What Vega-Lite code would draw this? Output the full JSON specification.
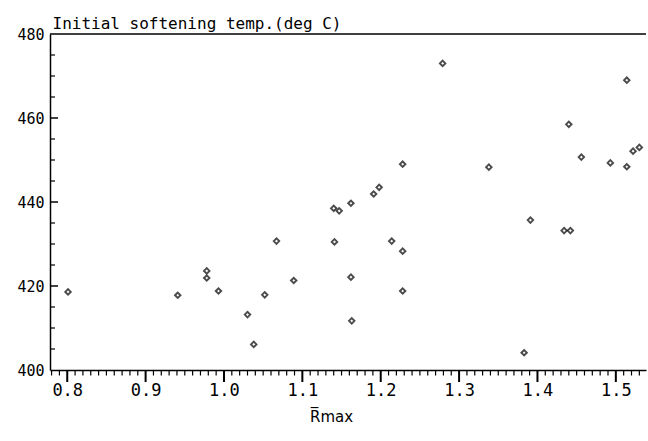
{
  "$schema": "https://vega.github.io/schema/vega-lite/v6.json",
  "width": 596,
  "height": 336,
  "autosize": "none",
  "padding": {"left": 50, "top": 34, "right": 2, "bottom": 71},
  "background": "white",
  "config": {
    "view": {"stroke": null},
    "font": "DejaVu Sans Mono"
  },
  "datasets": {
    "points": [
      {"rmax": 0.801, "temp": 418.6},
      {"rmax": 0.941, "temp": 417.8},
      {"rmax": 0.978, "temp": 423.6},
      {"rmax": 0.978, "temp": 421.9},
      {"rmax": 0.993, "temp": 418.8},
      {"rmax": 1.030, "temp": 413.2},
      {"rmax": 1.038, "temp": 406.1},
      {"rmax": 1.052, "temp": 417.9},
      {"rmax": 1.067, "temp": 430.7},
      {"rmax": 1.089, "temp": 421.3},
      {"rmax": 1.140, "temp": 438.5},
      {"rmax": 1.147, "temp": 437.9},
      {"rmax": 1.162, "temp": 439.7},
      {"rmax": 1.191, "temp": 441.9},
      {"rmax": 1.198, "temp": 443.5},
      {"rmax": 1.141, "temp": 430.5},
      {"rmax": 1.214, "temp": 430.7},
      {"rmax": 1.162, "temp": 422.1},
      {"rmax": 1.163, "temp": 411.7},
      {"rmax": 1.228, "temp": 449.0},
      {"rmax": 1.338, "temp": 448.3},
      {"rmax": 1.228, "temp": 428.3},
      {"rmax": 1.228, "temp": 418.8},
      {"rmax": 1.391, "temp": 435.7},
      {"rmax": 1.434, "temp": 433.2},
      {"rmax": 1.442, "temp": 433.2},
      {"rmax": 1.383, "temp": 404.1},
      {"rmax": 1.456, "temp": 450.7},
      {"rmax": 1.493, "temp": 449.3},
      {"rmax": 1.514, "temp": 448.4},
      {"rmax": 1.522, "temp": 452.1},
      {"rmax": 1.279, "temp": 473.0},
      {"rmax": 1.514, "temp": 469.0},
      {"rmax": 1.440, "temp": 458.5},
      {"rmax": 1.530, "temp": 453.0}
    ],
    "xmajor": [{"v": 0.8}, {"v": 0.9}, {"v": 1.0}, {"v": 1.1}, {"v": 1.2}, {"v": 1.3}, {"v": 1.4}, {"v": 1.5}],
    "xminor": [{"v":0.78},{"v":0.79},{"v":0.81},{"v":0.82},{"v":0.83},{"v":0.84},{"v":0.85},{"v":0.86},{"v":0.87},{"v":0.88},{"v":0.89},{"v":0.91},{"v":0.92},{"v":0.93},{"v":0.94},{"v":0.95},{"v":0.96},{"v":0.97},{"v":0.98},{"v":0.99},{"v":1.01},{"v":1.02},{"v":1.03},{"v":1.04},{"v":1.05},{"v":1.06},{"v":1.07},{"v":1.08},{"v":1.09},{"v":1.11},{"v":1.12},{"v":1.13},{"v":1.14},{"v":1.15},{"v":1.16},{"v":1.17},{"v":1.18},{"v":1.19},{"v":1.21},{"v":1.22},{"v":1.23},{"v":1.24},{"v":1.25},{"v":1.26},{"v":1.27},{"v":1.28},{"v":1.29},{"v":1.31},{"v":1.32},{"v":1.33},{"v":1.34},{"v":1.35},{"v":1.36},{"v":1.37},{"v":1.38},{"v":1.39},{"v":1.41},{"v":1.42},{"v":1.43},{"v":1.44},{"v":1.45},{"v":1.46},{"v":1.47},{"v":1.48},{"v":1.49},{"v":1.51},{"v":1.52},{"v":1.53}],
    "ymajor": [{"v": 420}, {"v": 440}, {"v": 460}],
    "yminor": [{"v":405},{"v":410},{"v":415},{"v":425},{"v":430},{"v":435},{"v":445},{"v":450},{"v":455},{"v":465},{"v":470},{"v":475}],
    "frame": [{"v": 480}]
  },
  "layer": [
    {
      "data": {"name": "points"},
      "mark": {"type": "point", "shape": "diamond", "filled": false, "stroke": "black", "strokeWidth": 1.9, "size": 30},
      "encoding": {
        "x": {"field": "rmax", "type": "quantitative",
              "scale": {"domain": [0.778, 1.5385], "nice": false, "zero": false},
              "axis": {"orient": "bottom", "values": [0.8, 0.9, 1.0, 1.1, 1.2, 1.3, 1.4, 1.5], "format": ".1f",
                       "domainColor": "black", "domainWidth": 1.5, "labelColor": "black", "titleColor": "black", "grid": false,
                       "ticks": false, "labelFontSize": 17, "labelPadding": 12, "labelBaseline": "top",
                       "title": "R\u0305max", "titleFontSize": 15, "titleFontWeight": "normal", "titleFont": "DejaVu Sans",
                       "titleX": 281, "titleY": 51, "titleAlign": "center", "titleBaseline": "alphabetic"}},
        "y": {"field": "temp", "type": "quantitative",
              "scale": {"domain": [400, 480], "nice": false, "zero": false},
              "axis": {"orient": "left", "values": [400, 420, 440, 460, 480],
                       "domainColor": "black", "domainWidth": 1.5, "labelColor": "black", "titleColor": "black", "grid": false,
                       "ticks": false, "labelPadding": 6,
                       "labelFontSize": 15, "labelBaseline": "middle",
                       "title": "Initial softening temp.(deg C)", "titleFontSize": 16, "titleFontWeight": "normal",
                       "titleAngle": 0, "titleX": 2, "titleY": -6, "titleAlign": "left", "titleBaseline": "alphabetic"}}
      }
    },
    {
      "data": {"name": "frame"},
      "mark": {"type": "rule", "stroke": "black", "strokeWidth": 1.5},
      "encoding": {
        "y": {"field": "v", "type": "quantitative"}
      }
    },
    {
      "data": {"name": "xmajor"},
      "mark": {"type": "tick", "orient": "vertical", "color": "black", "size": 12, "thickness": 2, "yOffset": 6, "opacity": 1},
      "encoding": {
        "x": {"field": "v", "type": "quantitative"},
        "y": {"datum": 400, "type": "quantitative"}
      }
    },
    {
      "data": {"name": "xminor"},
      "mark": {"type": "tick", "orient": "vertical", "color": "black", "size": 5, "thickness": 1.2, "yOffset": 3, "opacity": 1},
      "encoding": {
        "x": {"field": "v", "type": "quantitative"},
        "y": {"datum": 400, "type": "quantitative"}
      }
    },
    {
      "data": {"name": "ymajor"},
      "mark": {"type": "tick", "orient": "horizontal", "color": "black", "size": 8, "thickness": 1.5, "xOffset": 4, "opacity": 1},
      "encoding": {
        "y": {"field": "v", "type": "quantitative"},
        "x": {"datum": 0.778, "type": "quantitative"}
      }
    },
    {
      "data": {"name": "yminor"},
      "mark": {"type": "tick", "orient": "horizontal", "color": "black", "size": 5, "thickness": 1.2, "xOffset": 2.5, "opacity": 1},
      "encoding": {
        "y": {"field": "v", "type": "quantitative"},
        "x": {"datum": 0.778, "type": "quantitative"}
      }
    }
  ]
}
